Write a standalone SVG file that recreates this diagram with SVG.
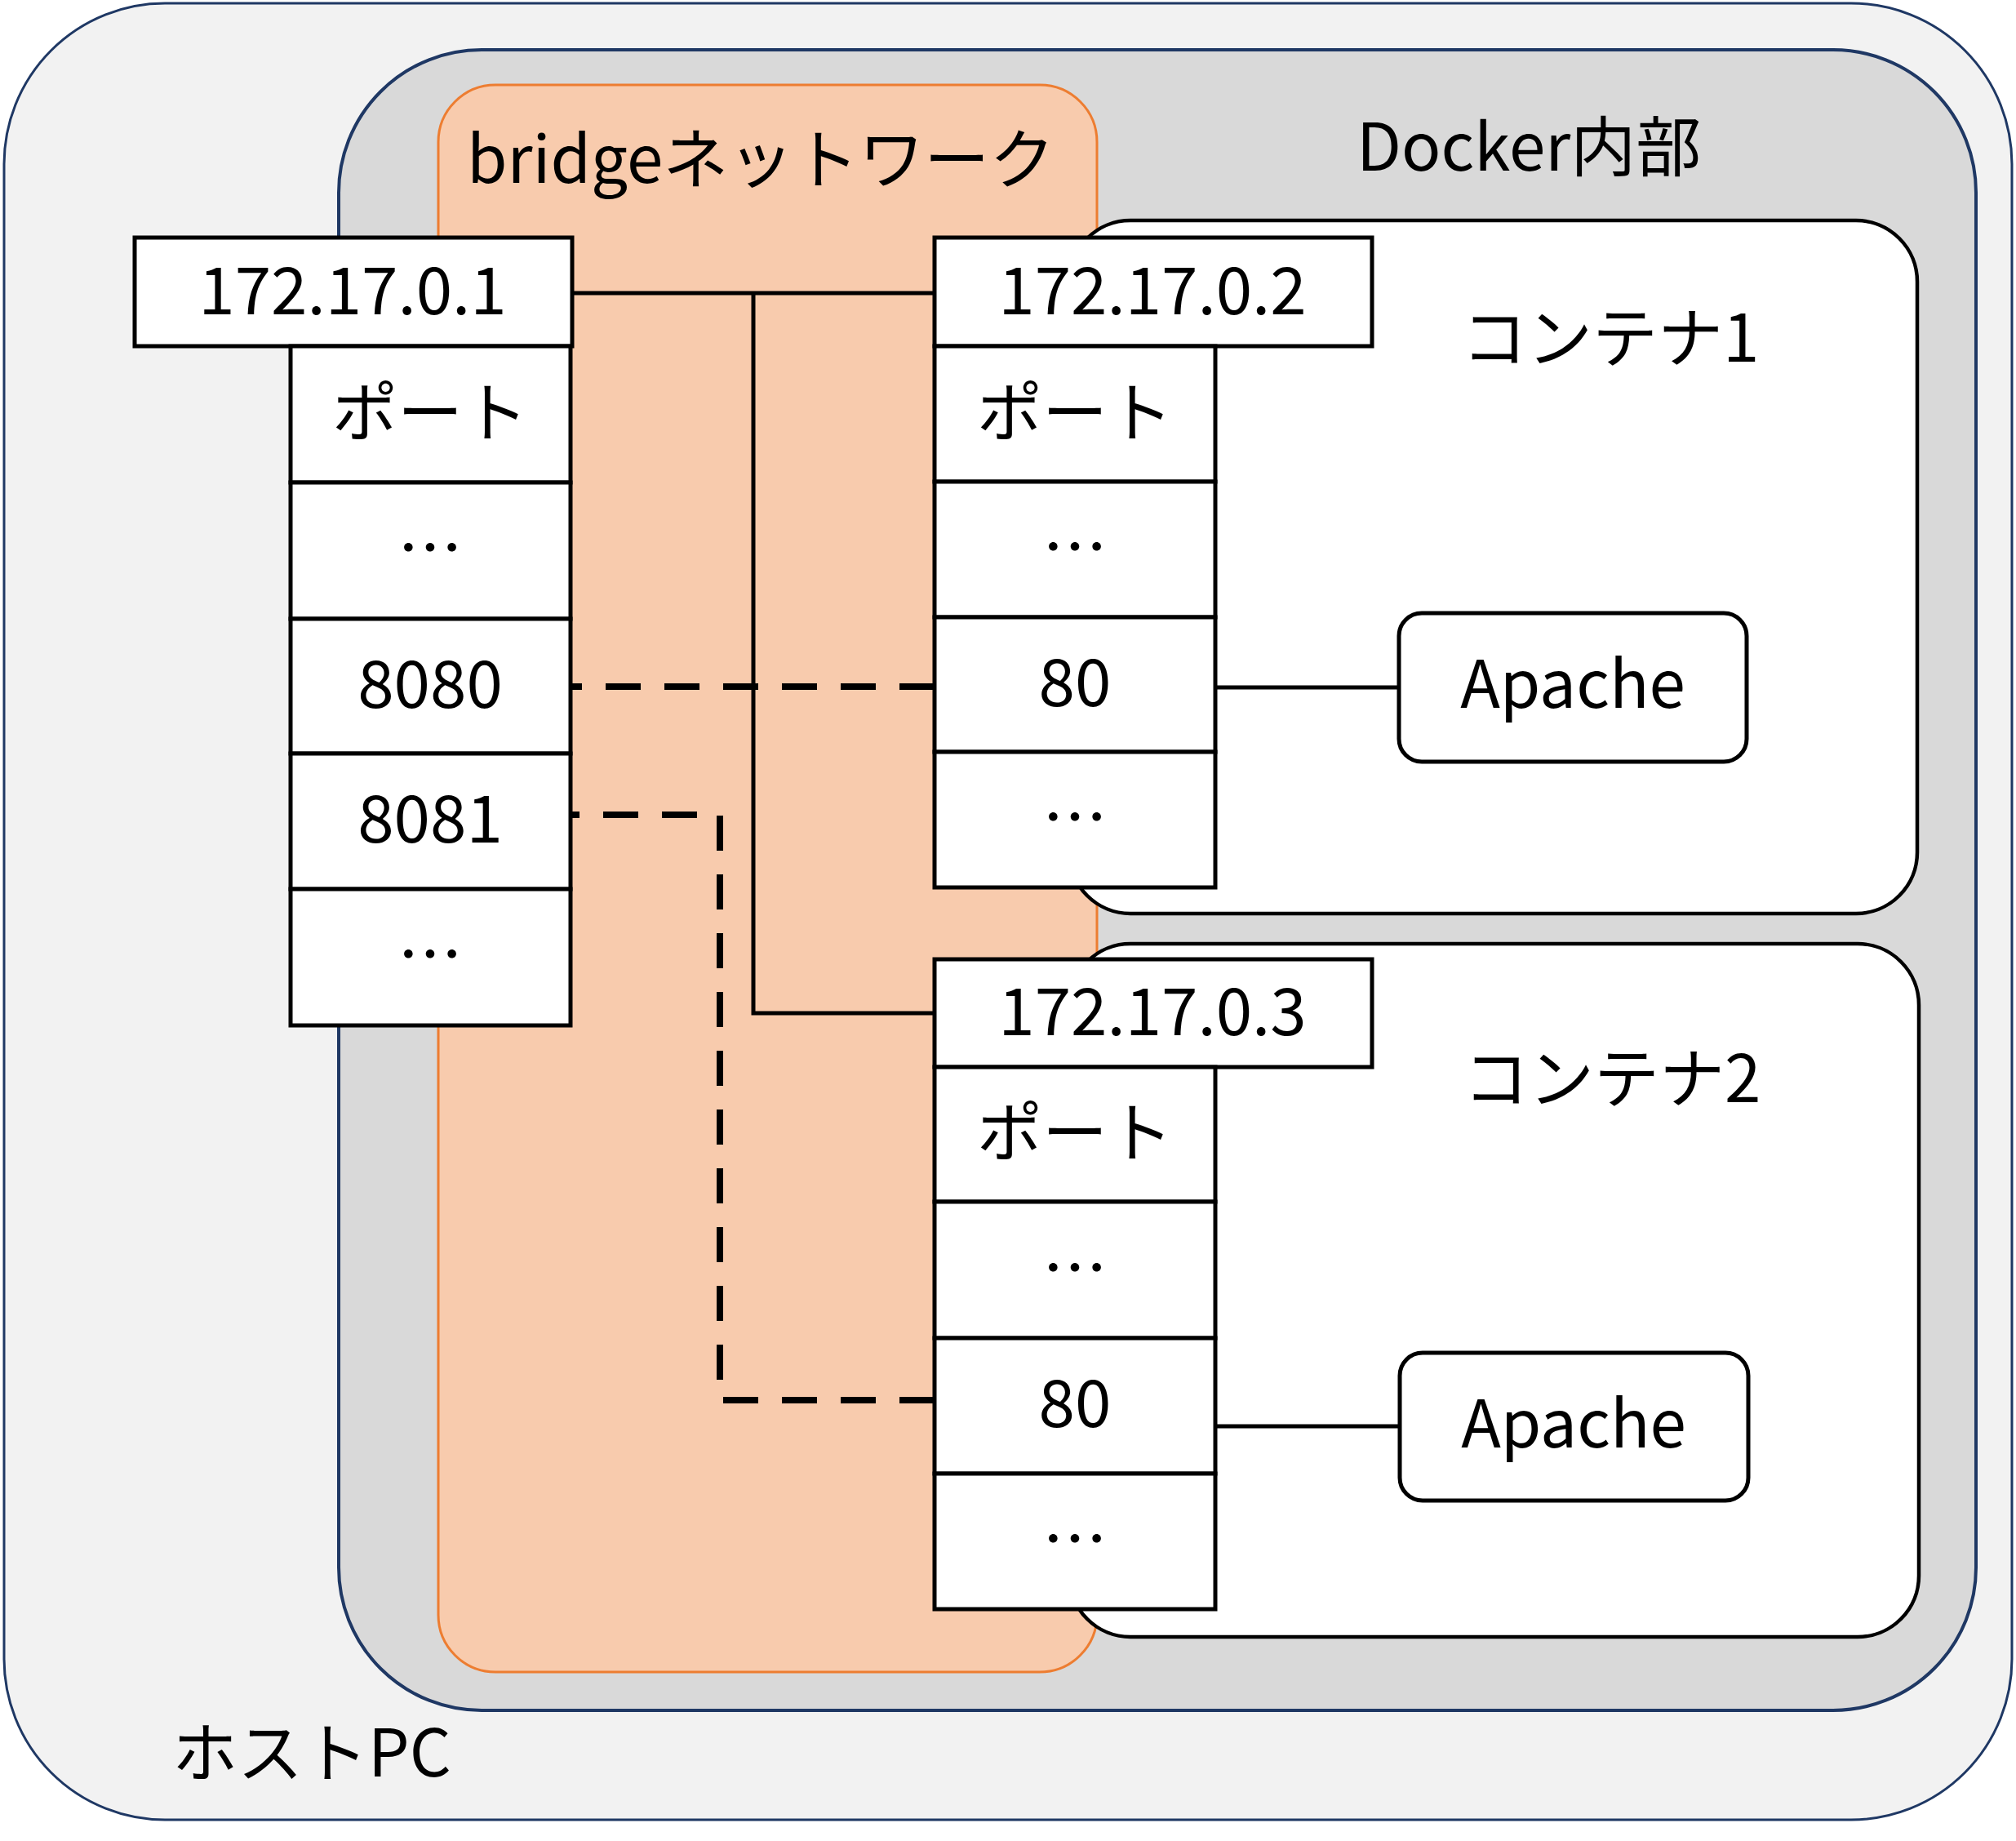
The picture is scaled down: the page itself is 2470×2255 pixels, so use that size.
<svg xmlns="http://www.w3.org/2000/svg" width="2470" height="2255" viewBox="0 0 2470 2255">
<style>
text{font-family:"Noto Sans CJK JP","Noto Sans",sans-serif;font-size:80px;fill:#000}
.c{text-anchor:middle;dominant-baseline:central}
.box{fill:#fff;stroke:#000;stroke-width:5}
.ct{fill:#fff;stroke:#000;stroke-width:4.5}
.ln{fill:none;stroke:#000;stroke-width:5}
.dash{fill:none;stroke:#000;stroke-width:8;stroke-dasharray:43 29}
</style>
<rect width="2470" height="2255" fill="#fff"/>
<g id="host"><rect x="5" y="4" width="2460" height="2225" rx="197" fill="#F2F2F2" stroke="#1F3864" stroke-width="3"/>
<text x="211" y="2176">ホストPC</text></g>
<g id="docker"><rect x="415" y="61" width="2006" height="2034" rx="175" fill="#D9D9D9" stroke="#1F3864" stroke-width="4"/>
<text x="1662" y="209">Docker内部</text></g>
<g id="bridge"><rect x="537" y="104" width="807" height="1944" rx="70" fill="#F8CBAD" stroke="#ED7D31" stroke-width="3"/>
<text x="572" y="224">bridgeネットワーク</text></g>
<g id="container1"><rect x="1310" y="270" width="1039" height="849" rx="75" class="ct"/>
<text x="1791" y="443">コンテナ1</text></g>
<g id="container2"><rect x="1310" y="1156" width="1041" height="849" rx="75" class="ct"/>
<text x="1793" y="1350">コンテナ2</text></g>
<g id="connectors">
<path class="ln" d="M701 359H1145M923 359V1241H1145"/>
<path class="ln" d="M1489 842H1714M1489 1747H1715"/>
<path class="dash" d="M1145 841H699"/>
<path class="dash" d="M1145 1715H882V998H699"/>
</g>
<g id="host-ip"><rect class="box" x="165" y="291" width="536" height="133"/><text class="c" x="432" y="350">172.17.0.1</text></g>
<g id="host-ports">
<rect class="box" x="356" y="424" width="343" height="167"/><text class="c" x="527" y="499">ポート</text>
<rect class="box" x="356" y="591" width="343" height="167"/><text class="c" x="527" y="665">…</text>
<rect class="box" x="356" y="758" width="343" height="165"/><text class="c" x="527" y="832">8080</text>
<rect class="box" x="356" y="923" width="343" height="166"/><text class="c" x="527" y="997">8081</text>
<rect class="box" x="356" y="1089" width="343" height="167"/><text class="c" x="527" y="1163">…</text>
</g>
<g id="c1-ip"><rect class="box" x="1145" y="291" width="536" height="133"/><text class="c" x="1412" y="350">172.17.0.2</text></g>
<g id="c1-ports">
<rect class="box" x="1145" y="424" width="344" height="166"/><text class="c" x="1317" y="499">ポート</text>
<rect class="box" x="1145" y="590" width="344" height="166"/><text class="c" x="1317" y="664">…</text>
<rect class="box" x="1145" y="756" width="344" height="165"/><text class="c" x="1317" y="830">80</text>
<rect class="box" x="1145" y="921" width="344" height="166"/><text class="c" x="1317" y="995">…</text>
</g>
<g id="c2-ip"><rect class="box" x="1145" y="1175" width="536" height="132"/><text class="c" x="1412" y="1233">172.17.0.3</text></g>
<g id="c2-ports">
<rect class="box" x="1145" y="1307" width="344" height="165"/><text class="c" x="1317" y="1381">ポート</text>
<rect class="box" x="1145" y="1472" width="344" height="167"/><text class="c" x="1317" y="1547">…</text>
<rect class="box" x="1145" y="1639" width="344" height="166"/><text class="c" x="1317" y="1713">80</text>
<rect class="box" x="1145" y="1805" width="344" height="166"/><text class="c" x="1317" y="1879">…</text>
</g>
<g id="apache1"><rect class="box" x="1714" y="751" width="426" height="182" rx="28"/><text class="c" x="1927" y="832">Apache</text></g>
<g id="apache2"><rect class="box" x="1715" y="1657" width="427" height="181" rx="28"/><text class="c" x="1928" y="1738">Apache</text></g>
</svg>
